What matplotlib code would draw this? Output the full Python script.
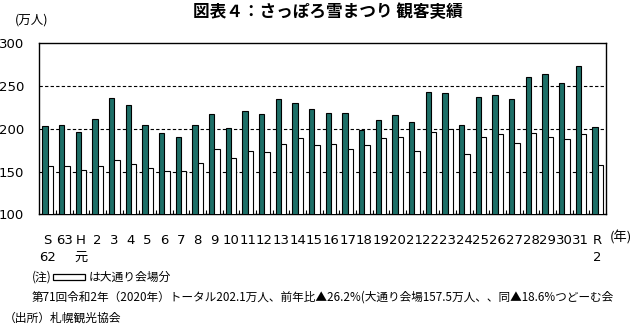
import numpy as np
import matplotlib.pyplot as plt
from matplotlib.patches import Rectangle

# 年次ラベル (S62 ~ R2)
labels = ['S\n62', '63', 'H\n元'] + [str(i) for i in range(2, 32)] + ['R\n2']

# 観客数 (万人)
total = [203, 205, 196, 211, 236, 228, 204, 195, 191, 204,
         217, 201, 221, 217, 235, 230, 223, 218, 219, 199,
         210, 216, 208, 243, 242, 205, 237, 240, 235, 261,
         264, 254, 273.8, 202.1]
odori = [156, 157, 151.5, 157, 163, 158.5, 154, 150.5, 150.5, 160,
         176, 165.5, 174, 172.5, 182, 189, 181, 182, 176.5, 181,
         189, 190, 174, 196, 199.5, 170, 191, 193.5, 183, 195,
         191, 188, 193.5, 157.5]

plt.rcParams['font.family'] = ['DejaVu Sans', 'Noto Sans CJK JP']
jp = ['Noto Sans CJK JP', 'DejaVu Sans']

fig = plt.figure(figsize=(6.36, 3.25), dpi=100)
ax = fig.add_axes([0.0618, 0.3406, 0.891, 0.526])

x = np.arange(len(labels))
w = 0.32
ax.bar(x + 0.34, total, width=w, bottom=0, color='#1d6f67', edgecolor='black',
       linewidth=0.8, zorder=3)
ax.bar(x + 0.66, odori, width=w, bottom=0, color='white', edgecolor='black',
       linewidth=0.8, zorder=3)

for yv in [150, 200, 250]:
    ax.axhline(yv, color='black', linewidth=0.8, dashes=(3, 2), zorder=1)

ax.set_xlim(0, len(labels))
ax.set_ylim(100, 300)
ax.set_yticks([100, 150, 200, 250, 300])
ax.tick_params(axis='y', length=0, pad=11, labelsize=9.5)

ax.set_xticks(x + 0.5)
ax.set_xticklabels(labels, fontsize=9.5, linespacing=1.45)
ax.tick_params(axis='x', which='major', length=0, pad=14)
ax.set_xticks(np.arange(1, len(labels)), minor=True)
ax.tick_params(axis='x', which='minor', direction='in', length=3, width=0.8)
for s in ax.spines.values():
    s.set_linewidth(1.0)

fig.text(0.515, 0.962, '図表４：さっぽろ雪まつり 観客実績', ha='center', va='center',
         fontsize=12, fontweight='bold', family=jp)
fig.text(0.024, 0.938, '(万人)', ha='left', va='center', fontsize=9, family=jp)
fig.text(0.977, 0.268, '(年)', ha='center', va='center', fontsize=9.5, family=jp)

fig.text(0.05, 0.148, '(注)', ha='left', va='center', fontsize=8.5, family=jp)
fig.add_artist(Rectangle((0.084, 0.139), 0.049, 0.017, transform=fig.transFigure,
                         facecolor='white', edgecolor='black', linewidth=0.9))
fig.text(0.139, 0.148, 'は大通り会場分', ha='left', va='center', fontsize=8.5, family=jp)
fig.text(0.05, 0.086, '第71回令和2年（2020年）トータル202.1万人、前年比▲26.2%(大通り会場157.5万人、、同▲18.6%つどーむ会',
         ha='left', va='center', fontsize=8.4, family=jp)
fig.text(0.006, 0.022, '（出所）札幌観光協会', ha='left', va='center', fontsize=8.5, family=jp)

fig.savefig('out.png', dpi=100)
